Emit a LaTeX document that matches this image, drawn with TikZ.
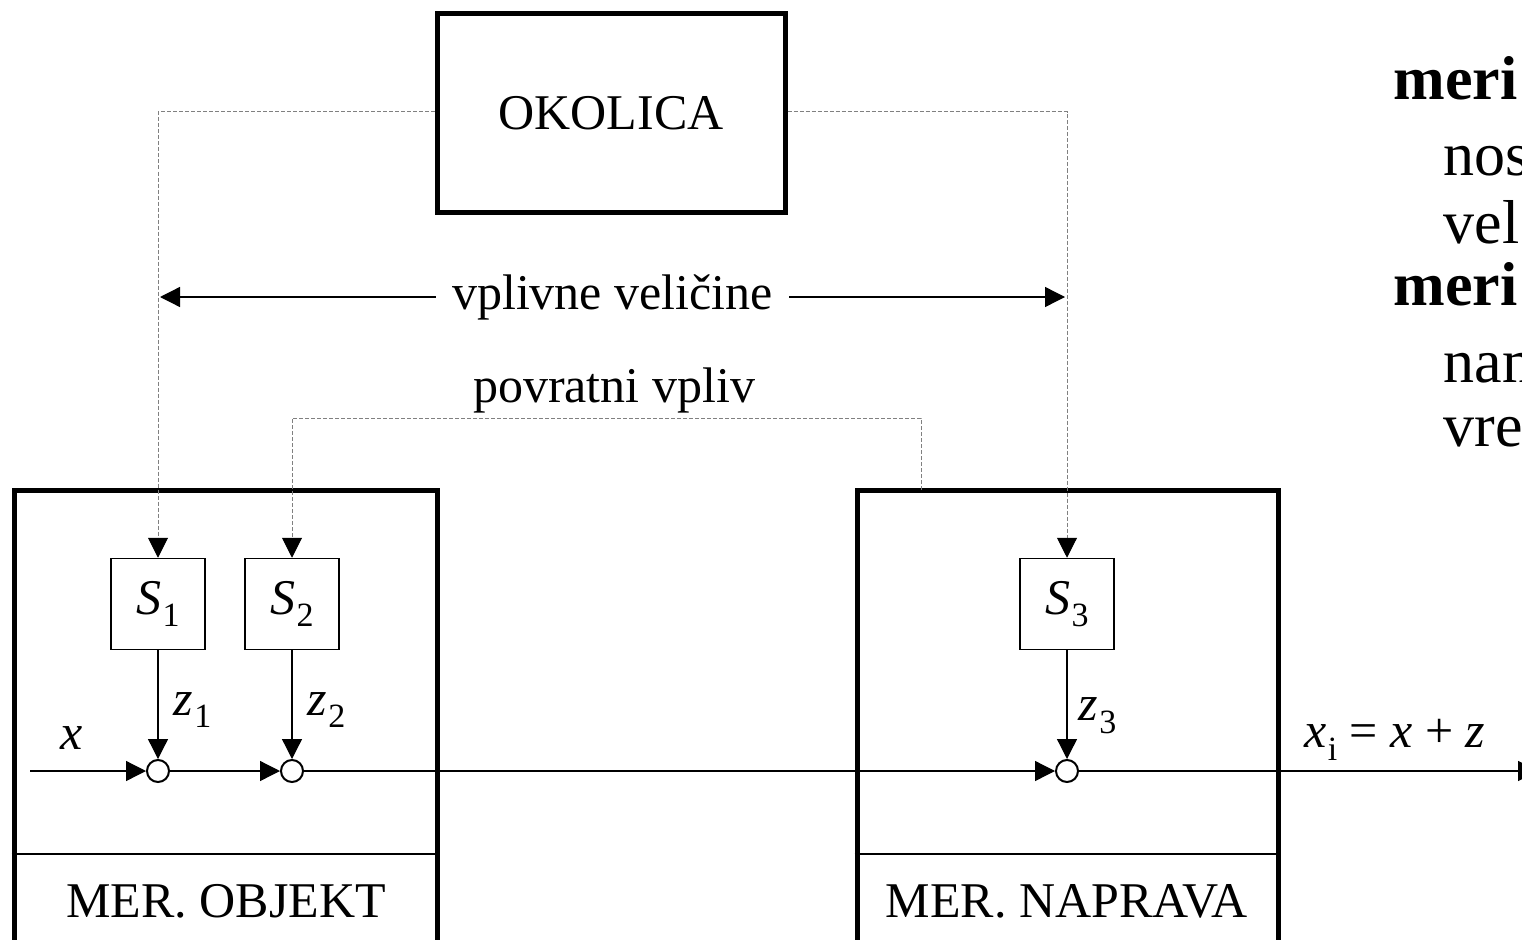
\documentclass[tikz,border=0pt]{standalone}
\usepackage{fontspec}
\setmainfont{Liberation Serif}
\usetikzlibrary{arrows.meta, positioning}
\newcommand{\qsym}[2]{\textit{#1}\kern1pt\raisebox{-0.25em}{\fontsize{34}{34}\selectfont #2}}

\begin{document}
\begin{tikzpicture}[x=1pt, y=-1pt, >={Triangle[length=20pt,width=20pt,color=black]},
    font=\fontsize{50}{58}\selectfont, line width=1.3pt]
      \tikzstyle{block}=[draw, line width=5pt, inner sep=0pt]
      \tikzstyle{sbox}=[draw, line width=1.5pt, minimum width=94pt, minimum height=91pt, inner sep=0pt]
      \tikzstyle{sum}=[draw, circle, line width=2pt, minimum size=22pt, inner sep=0pt]
      \tikzstyle{influence}=[draw=gray, line width=1pt, dash pattern=on 4pt off 2pt]
      \tikzstyle{side}=[anchor=base west, inner sep=0pt, font=\fontsize{62}{70}\selectfont]
      \useasboundingbox (0,0) rectangle (1522,939);
      % main blocks
      \node[block, minimum width=348pt, minimum height=198pt] (okolica) at (611,113) {OKOLICA};
      \node[block, minimum width=423pt, minimum height=490pt] (objekt) at (225.5,735) {};
      \node[block, minimum width=421pt, minimum height=490pt] (naprava) at (1067.5,735) {};
      \draw (objekt.west |- 0,854) -- (objekt.east |- 0,854);
      \draw (naprava.west |- 0,854) -- (naprava.east |- 0,854);
      \node (lobj) at (226,901) {MER. OBJEKT};
      \node (lnap) at (1067,901) {MER. NAPRAVA};
      % disturbances
      \node[sbox] (s1) at (158,604) {\qsym{S}{1}};
      \node[sbox] (s2) at (292,604) {\qsym{S}{2}};
      \node[sbox] (s3) at (1067,604) {\qsym{S}{3}};
      \node[sum] (c1) at (158,771) {};
      \node[sum] (c2) at (292,771) {};
      \node[sum] (c3) at (1067,771) {};
      \path[->] (s1) edge node[right=12pt, pos=0.55] {\qsym{z}{1}} (c1);
      \path[->] (s2) edge node[right=12pt, pos=0.55] {\qsym{z}{2}} (c2);
      \path[->] (s3) edge node[right=8pt, pos=0.6] {\qsym{z}{3}} (c3);
      % signal path
      \coordinate (in) at (30,771);
      \coordinate (out) at (1538,771);
      \draw[->] (in) -- (c1);
      \draw[->] (c1) -- (c2);
      \draw[->] (c2) -- (c3);
      \draw[->] (c3) -- (out);
      \node (x) at (72,738) {\textit{x}};
      \node (xi) at (1395,740) {\qsym{x}{i} = \textit{x} + \textit{z}};
      % influences
      \draw[influence, ->] (okolica.west |- 0,112) -| (s1.north);
      \draw[influence, ->] (okolica.east |- 0,112) -| (s3.north);
      \coordinate (vl) at (160,297);
      \coordinate (vr) at (1065,297);
      \draw[<->] (vl) -- node[fill=white, inner xsep=16pt] (vpl) {vplivne veličine} (vr);
      \coordinate (fb) at (921,490);
      \draw[influence, ->] (fb) -- ++(0,-72) -| (s2.north);
      \node (pov) at (614,390) {povratni vpliv};
      % cut text on the right
      \node[side] (t1) at (1393,100) {\textbf{meri}};
      \node[side] (t2) at (1443,175) {nos};
      \node[side] (t3) at (1443,243) {vel};
      \node[side] (t4) at (1393,305) {\textbf{meri}};
      \node[side] (t5) at (1443,382) {nam};
      \node[side] (t6) at (1443,446) {vre};
\end{tikzpicture}
\end{document}
